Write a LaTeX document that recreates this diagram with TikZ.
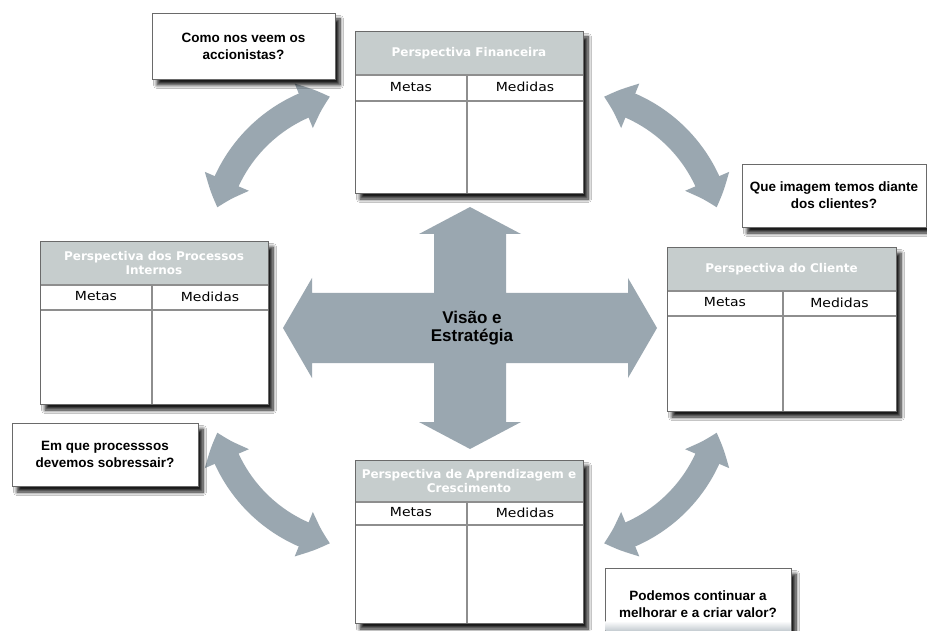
\documentclass[tikz,border=0pt]{standalone}
\usepackage{fontspec}
\setmainfont{Liberation Sans}
\newfontfamily\tabfont{DejaVu Sans}
\newfontfamily\colfont{DejaVu Sans}[FakeStretch=1.12]
\usetikzlibrary{arrows.meta,bending,shadows.blur}

\definecolor{arrowgray}{HTML}{9AA7B0}
\definecolor{headgray}{HTML}{C6CDCD}
\definecolor{rulegray}{HTML}{8E8E8E}
\definecolor{framegray}{HTML}{6A6A6A}

\tikzset{
  softshadow/.style={blur shadow={shadow xshift=5pt, shadow yshift=-6pt,
      shadow blur radius=3.5pt, shadow blur steps=8, shadow opacity=90}},
  tablebox/.style={rectangle, fill=white, softshadow, inner sep=0pt, outer sep=0pt},
  frame/.style={draw=framegray, line width=0.8pt},
  headtext/.style={font=\tabfont\bfseries\fontsize{12}{14}\selectfont,
      text=white, align=center, inner sep=0pt},
  coltext/.style={font=\colfont\fontsize{12.5}{14}\selectfont, inner sep=0pt},
  colrule/.style={draw=rulegray, line width=2pt},
  qbox/.style={rectangle, fill=white, draw=framegray, line width=0.8pt, softshadow,
      align=center, font=\bfseries\fontsize{13.5}{17}\selectfont, inner sep=2pt},
  crossarrow/.style={fill=arrowgray},
  crosstext/.style={font=\bfseries\fontsize{17}{18}\selectfont, align=center, inner sep=0pt},
  bendarrow/.style={draw=arrowgray, line width=26pt,
      {Triangle[length=28pt, width=46pt, bend]}-{Triangle[length=28pt, width=46pt, bend]}},
}

% #1 name, #2 left, #3 top, #4 right, #5 bottom,
% #6 header bottom, #7 column-head rule, #8 column divider, #9 title
\newcommand\persptable[9]{%
  \node[tablebox, anchor=north west, minimum width={#4pt-#2pt},
        minimum height={#5pt-#3pt}] (#1) at (#2,#3) {};
  \fill[headgray] (#2,#3) rectangle (#4,#6);
  \draw[colrule] (#2,#6) -- (#4,#6);
  \draw[colrule] (#2,#7) -- (#4,#7);
  \draw[colrule] (#8,#6) -- (#8,#5);
  \node[coltext] (#1-goals) at ({(#2+#8)/2},{(#6+#7)/2-1}) {Metas};
  \node[coltext] (#1-measures) at ({(#8+#4)/2},{(#6+#7)/2-1}) {Medidas};
  \node[headtext] (#1-title) at ({(#2+#4)/2},{(#3+#6)/2}) {#9};
  \draw[frame] (#1.north west) rectangle (#1.south east);
}

\begin{document}
\begin{tikzpicture}[x=1pt, y=-1pt]
  \useasboundingbox (0,0) rectangle (927,631);
  \fill[white] (0,0) rectangle (927,631);

  % central four-way arrow
  \fill[crossarrow] (470,207) -- (521,234) -- (506,234) -- (506,293) -- (628,293)
    -- (628,278) -- (657,328) -- (628,378) -- (628,363) -- (506,363) -- (506,422)
    -- (521,422) -- (470,449) -- (419,422) -- (434,422) -- (434,363) -- (312,363)
    -- (312,378) -- (283,328) -- (312,278) -- (312,293) -- (434,293) -- (434,234)
    -- (419,234) -- cycle;
  \node[crosstext] (vision) at (472,328) {Visão e\\Estratégia};

  % curved double arrows between neighbouring perspectives
  \coordinate (arcNW) at (364,244);
  \coordinate (arcNE) at (570,244);
  \coordinate (arcSW) at (364,396);
  \coordinate (arcSE) at (570,396);
  \draw[bendarrow] (arcNW) ++(-103:151) arc[start angle=-103, end angle=-166, radius=151];
  \draw[bendarrow] (arcNE) ++(-77:151) arc[start angle=-77, end angle=-14, radius=151];
  \draw[bendarrow] (arcSW) ++(103:151) arc[start angle=103, end angle=166, radius=151];
  \draw[bendarrow] (arcSE) ++(77:151) arc[start angle=77, end angle=14, radius=151];

  % perspective tables
  \persptable{fin}{355}{31}{583}{193}{75}{101}{467}{Perspectiva Financeira}
  \persptable{proc}{40}{241}{268}{404}{285}{310}{152}{Perspectiva dos Processos\\Internos}
  \persptable{cli}{667}{247}{896}{411}{291}{316}{783}{Perspectiva do Cliente}
  \persptable{learn}{355}{460}{583}{623}{502}{525}{467}{Perspectiva de Aprendizagem e\\Crescimento}

  % guiding questions
  \node[qbox, minimum width=183pt, minimum height=66pt] (q1) at (243.5,46)
    {Como nos veem os\\accionistas?};
  \node[qbox, minimum width=184pt, minimum height=63pt] (q2) at (834,195.5)
    {Que imagem temos diante\\dos clientes?};
  \node[qbox, minimum width=186pt, minimum height=63pt] (q3) at (105,454.5)
    {Em que processsos\\devemos sobressair?};
  \node[qbox, minimum width=186pt, minimum height=72pt] (q4) at (698,604)
    {Podemos continuar a\\melhorar e a criar valor?};
  \shade[top color=white, bottom color=arrowgray!60] (605.4,621) rectangle (790.6,631);
\end{tikzpicture}
\end{document}
